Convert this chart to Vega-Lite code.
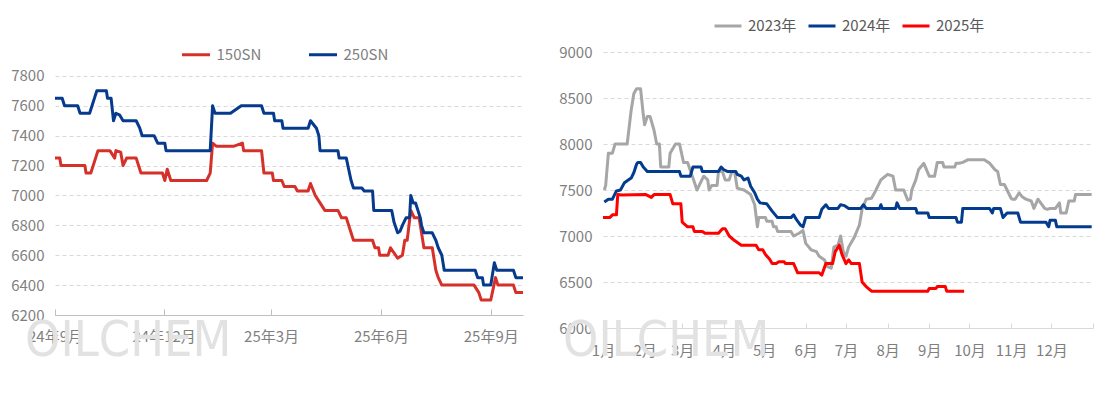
{
"$schema": "https://vega.github.io/schema/vega-lite/v6.json",
"padding": {"left": 10, "top": 11, "right": 0, "bottom": 0},
"background": "white",
"spacing": 33,
"resolve": {"scale": {"color": "independent", "x": "independent", "y": "independent"}, "legend": {"color": "independent"}},
"config": {
  "view": {"stroke": null},
  "font": "Noto Sans CJK SC",
  "axis": {"labelFont": "Noto Sans CJK SC", "labelFontSize": 15, "labelColor": "#7f7f7f", "title": null},
  "legend": {"labelFont": "Noto Sans CJK SC", "labelFontSize": 15, "title": null, "symbolType": "stroke", "symbolStrokeWidth": 3, "direction": "horizontal", "orient": "none", "labelOffset": 5}
},
"datasets": {
"left": [
{"d":"2024-09-01","s":"150SN","v":7250},{"d":"2024-09-05","s":"150SN","v":7250},{"d":"2024-09-06","s":"150SN","v":7200},{"d":"2024-09-26","s":"150SN","v":7200},{"d":"2024-09-27","s":"150SN","v":7150},{"d":"2024-10-01","s":"150SN","v":7150},{"d":"2024-10-07","s":"150SN","v":7300},{"d":"2024-10-17","s":"150SN","v":7300},{"d":"2024-10-21","s":"150SN","v":7250},{"d":"2024-10-22","s":"150SN","v":7300},{"d":"2024-10-26","s":"150SN","v":7290},{"d":"2024-10-28","s":"150SN","v":7200},{"d":"2024-10-31","s":"150SN","v":7250},{"d":"2024-11-08","s":"150SN","v":7250},{"d":"2024-11-10","s":"150SN","v":7200},{"d":"2024-11-12","s":"150SN","v":7150},{"d":"2024-11-30","s":"150SN","v":7150},{"d":"2024-12-02","s":"150SN","v":7100},{"d":"2024-12-04","s":"150SN","v":7175},{"d":"2024-12-07","s":"150SN","v":7100},{"d":"2025-01-06","s":"150SN","v":7100},{"d":"2025-01-09","s":"150SN","v":7150},{"d":"2025-01-11","s":"150SN","v":7350},{"d":"2025-01-14","s":"150SN","v":7330},{"d":"2025-01-29","s":"150SN","v":7330},{"d":"2025-02-05","s":"150SN","v":7350},{"d":"2025-02-06","s":"150SN","v":7300},{"d":"2025-02-21","s":"150SN","v":7300},{"d":"2025-02-23","s":"150SN","v":7150},{"d":"2025-03-02","s":"150SN","v":7150},{"d":"2025-03-03","s":"150SN","v":7100},{"d":"2025-03-10","s":"150SN","v":7100},{"d":"2025-03-12","s":"150SN","v":7060},{"d":"2025-03-21","s":"150SN","v":7060},{"d":"2025-03-23","s":"150SN","v":7030},{"d":"2025-04-01","s":"150SN","v":7030},{"d":"2025-04-03","s":"150SN","v":7080},{"d":"2025-04-07","s":"150SN","v":7000},{"d":"2025-04-11","s":"150SN","v":6950},{"d":"2025-04-15","s":"150SN","v":6900},{"d":"2025-04-26","s":"150SN","v":6900},{"d":"2025-04-29","s":"150SN","v":6850},{"d":"2025-05-03","s":"150SN","v":6850},{"d":"2025-05-09","s":"150SN","v":6700},{"d":"2025-05-25","s":"150SN","v":6700},{"d":"2025-05-27","s":"150SN","v":6650},{"d":"2025-05-30","s":"150SN","v":6650},{"d":"2025-05-31","s":"150SN","v":6600},{"d":"2025-06-07","s":"150SN","v":6600},{"d":"2025-06-09","s":"150SN","v":6650},{"d":"2025-06-15","s":"150SN","v":6580},{"d":"2025-06-19","s":"150SN","v":6600},{"d":"2025-06-21","s":"150SN","v":6700},{"d":"2025-06-23","s":"150SN","v":6700},{"d":"2025-06-26","s":"150SN","v":6900},{"d":"2025-06-29","s":"150SN","v":6850},{"d":"2025-07-03","s":"150SN","v":6850},{"d":"2025-07-05","s":"150SN","v":6750},{"d":"2025-07-07","s":"150SN","v":6650},{"d":"2025-07-14","s":"150SN","v":6650},{"d":"2025-07-17","s":"150SN","v":6500},{"d":"2025-07-19","s":"150SN","v":6450},{"d":"2025-07-22","s":"150SN","v":6400},{"d":"2025-08-18","s":"150SN","v":6400},{"d":"2025-08-22","s":"150SN","v":6350},{"d":"2025-08-24","s":"150SN","v":6300},{"d":"2025-09-01","s":"150SN","v":6300},{"d":"2025-09-05","s":"150SN","v":6450},{"d":"2025-09-07","s":"150SN","v":6400},{"d":"2025-09-20","s":"150SN","v":6400},{"d":"2025-09-22","s":"150SN","v":6350},{"d":"2025-09-28","s":"150SN","v":6350},
{"d":"2024-09-01","s":"250SN","v":7650},{"d":"2024-09-07","s":"250SN","v":7650},{"d":"2024-09-09","s":"250SN","v":7600},{"d":"2024-09-20","s":"250SN","v":7600},{"d":"2024-09-22","s":"250SN","v":7550},{"d":"2024-09-30","s":"250SN","v":7550},{"d":"2024-10-06","s":"250SN","v":7700},{"d":"2024-10-14","s":"250SN","v":7700},{"d":"2024-10-15","s":"250SN","v":7650},{"d":"2024-10-18","s":"250SN","v":7650},{"d":"2024-10-20","s":"250SN","v":7500},{"d":"2024-10-22","s":"250SN","v":7550},{"d":"2024-10-25","s":"250SN","v":7540},{"d":"2024-10-28","s":"250SN","v":7500},{"d":"2024-11-08","s":"250SN","v":7500},{"d":"2024-11-11","s":"250SN","v":7450},{"d":"2024-11-13","s":"250SN","v":7400},{"d":"2024-11-23","s":"250SN","v":7400},{"d":"2024-11-26","s":"250SN","v":7350},{"d":"2024-12-02","s":"250SN","v":7350},{"d":"2024-12-03","s":"250SN","v":7300},{"d":"2025-01-09","s":"250SN","v":7300},{"d":"2025-01-11","s":"250SN","v":7600},{"d":"2025-01-13","s":"250SN","v":7550},{"d":"2025-01-26","s":"250SN","v":7550},{"d":"2025-02-04","s":"250SN","v":7600},{"d":"2025-02-21","s":"250SN","v":7600},{"d":"2025-02-23","s":"250SN","v":7550},{"d":"2025-03-03","s":"250SN","v":7550},{"d":"2025-03-04","s":"250SN","v":7500},{"d":"2025-03-10","s":"250SN","v":7500},{"d":"2025-03-11","s":"250SN","v":7450},{"d":"2025-04-01","s":"250SN","v":7450},{"d":"2025-04-03","s":"250SN","v":7500},{"d":"2025-04-05","s":"250SN","v":7480},{"d":"2025-04-08","s":"250SN","v":7450},{"d":"2025-04-10","s":"250SN","v":7400},{"d":"2025-04-11","s":"250SN","v":7300},{"d":"2025-04-26","s":"250SN","v":7300},{"d":"2025-04-27","s":"250SN","v":7250},{"d":"2025-05-03","s":"250SN","v":7250},{"d":"2025-05-07","s":"250SN","v":7100},{"d":"2025-05-09","s":"250SN","v":7050},{"d":"2025-05-16","s":"250SN","v":7050},{"d":"2025-05-18","s":"250SN","v":7030},{"d":"2025-05-25","s":"250SN","v":7030},{"d":"2025-05-26","s":"250SN","v":6900},{"d":"2025-06-10","s":"250SN","v":6900},{"d":"2025-06-12","s":"250SN","v":6820},{"d":"2025-06-15","s":"250SN","v":6750},{"d":"2025-06-17","s":"250SN","v":6760},{"d":"2025-06-19","s":"250SN","v":6800},{"d":"2025-06-22","s":"250SN","v":6850},{"d":"2025-06-25","s":"250SN","v":6850},{"d":"2025-06-26","s":"250SN","v":7000},{"d":"2025-06-28","s":"250SN","v":6950},{"d":"2025-06-30","s":"250SN","v":6950},{"d":"2025-07-02","s":"250SN","v":6900},{"d":"2025-07-04","s":"250SN","v":6850},{"d":"2025-07-05","s":"250SN","v":6800},{"d":"2025-07-07","s":"250SN","v":6750},{"d":"2025-07-14","s":"250SN","v":6750},{"d":"2025-07-17","s":"250SN","v":6700},{"d":"2025-07-19","s":"250SN","v":6650},{"d":"2025-07-22","s":"250SN","v":6600},{"d":"2025-07-24","s":"250SN","v":6500},{"d":"2025-08-19","s":"250SN","v":6500},{"d":"2025-08-21","s":"250SN","v":6450},{"d":"2025-08-25","s":"250SN","v":6450},{"d":"2025-08-26","s":"250SN","v":6400},{"d":"2025-09-01","s":"250SN","v":6400},{"d":"2025-09-04","s":"250SN","v":6550},{"d":"2025-09-06","s":"250SN","v":6500},{"d":"2025-09-20","s":"250SN","v":6500},{"d":"2025-09-22","s":"250SN","v":6450},{"d":"2025-09-28","s":"250SN","v":6450}
],
"right": [
{"d":"2023-01-02","y":"2023年","v":7500},{"d":"2023-01-03","y":"2023年","v":7550},{"d":"2023-01-05","y":"2023年","v":7900},{"d":"2023-01-08","y":"2023年","v":7900},{"d":"2023-01-10","y":"2023年","v":8000},{"d":"2023-01-19","y":"2023年","v":8000},{"d":"2023-01-22","y":"2023年","v":8370},{"d":"2023-01-24","y":"2023年","v":8550},{"d":"2023-01-26","y":"2023年","v":8600},{"d":"2023-01-29","y":"2023年","v":8600},{"d":"2023-01-31","y":"2023年","v":8320},{"d":"2023-02-01","y":"2023年","v":8210},{"d":"2023-02-03","y":"2023年","v":8300},{"d":"2023-02-05","y":"2023年","v":8300},{"d":"2023-02-08","y":"2023年","v":8150},{"d":"2023-02-10","y":"2023年","v":8000},{"d":"2023-02-12","y":"2023年","v":8000},{"d":"2023-02-13","y":"2023年","v":7750},{"d":"2023-02-19","y":"2023年","v":7750},{"d":"2023-02-20","y":"2023年","v":7900},{"d":"2023-02-24","y":"2023年","v":8000},{"d":"2023-02-27","y":"2023年","v":8000},{"d":"2023-03-02","y":"2023年","v":7800},{"d":"2023-03-05","y":"2023年","v":7800},{"d":"2023-03-09","y":"2023年","v":7630},{"d":"2023-03-12","y":"2023年","v":7500},{"d":"2023-03-17","y":"2023年","v":7650},{"d":"2023-03-20","y":"2023年","v":7610},{"d":"2023-03-21","y":"2023年","v":7500},{"d":"2023-03-23","y":"2023年","v":7550},{"d":"2023-03-27","y":"2023年","v":7550},{"d":"2023-03-28","y":"2023年","v":7700},{"d":"2023-03-31","y":"2023年","v":7700},{"d":"2023-04-02","y":"2023年","v":7610},{"d":"2023-04-05","y":"2023年","v":7610},{"d":"2023-04-07","y":"2023年","v":7700},{"d":"2023-04-09","y":"2023年","v":7700},{"d":"2023-04-11","y":"2023年","v":7520},{"d":"2023-04-16","y":"2023年","v":7500},{"d":"2023-04-21","y":"2023年","v":7450},{"d":"2023-04-24","y":"2023年","v":7340},{"d":"2023-04-26","y":"2023年","v":7100},{"d":"2023-04-27","y":"2023年","v":7200},{"d":"2023-05-02","y":"2023年","v":7200},{"d":"2023-05-03","y":"2023年","v":7160},{"d":"2023-05-07","y":"2023年","v":7160},{"d":"2023-05-08","y":"2023年","v":7100},{"d":"2023-05-10","y":"2023年","v":7100},{"d":"2023-05-11","y":"2023年","v":7050},{"d":"2023-05-21","y":"2023年","v":7050},{"d":"2023-05-23","y":"2023年","v":7000},{"d":"2023-05-27","y":"2023年","v":7030},{"d":"2023-05-30","y":"2023年","v":7060},{"d":"2023-06-01","y":"2023年","v":6920},{"d":"2023-06-05","y":"2023年","v":6850},{"d":"2023-06-09","y":"2023年","v":6830},{"d":"2023-06-11","y":"2023年","v":6780},{"d":"2023-06-15","y":"2023年","v":6740},{"d":"2023-06-17","y":"2023年","v":6670},{"d":"2023-06-20","y":"2023年","v":6650},{"d":"2023-06-22","y":"2023年","v":6880},{"d":"2023-06-25","y":"2023年","v":6900},{"d":"2023-06-27","y":"2023年","v":7000},{"d":"2023-06-29","y":"2023年","v":6830},{"d":"2023-07-01","y":"2023年","v":6780},{"d":"2023-07-03","y":"2023年","v":6880},{"d":"2023-07-07","y":"2023年","v":6980},{"d":"2023-07-11","y":"2023年","v":7120},{"d":"2023-07-13","y":"2023年","v":7290},{"d":"2023-07-16","y":"2023年","v":7400},{"d":"2023-07-20","y":"2023年","v":7410},{"d":"2023-07-23","y":"2023年","v":7490},{"d":"2023-07-27","y":"2023年","v":7610},{"d":"2023-08-01","y":"2023年","v":7670},{"d":"2023-08-05","y":"2023年","v":7650},{"d":"2023-08-07","y":"2023年","v":7500},{"d":"2023-08-13","y":"2023年","v":7500},{"d":"2023-08-16","y":"2023年","v":7390},{"d":"2023-08-18","y":"2023年","v":7400},{"d":"2023-08-19","y":"2023年","v":7500},{"d":"2023-08-22","y":"2023年","v":7610},{"d":"2023-08-24","y":"2023年","v":7720},{"d":"2023-08-28","y":"2023年","v":7790},{"d":"2023-09-01","y":"2023年","v":7650},{"d":"2023-09-05","y":"2023年","v":7650},{"d":"2023-09-07","y":"2023年","v":7800},{"d":"2023-09-11","y":"2023年","v":7800},{"d":"2023-09-12","y":"2023年","v":7750},{"d":"2023-09-20","y":"2023年","v":7750},{"d":"2023-09-21","y":"2023年","v":7790},{"d":"2023-09-23","y":"2023年","v":7790},{"d":"2023-09-26","y":"2023年","v":7800},{"d":"2023-09-30","y":"2023年","v":7830},{"d":"2023-10-12","y":"2023年","v":7830},{"d":"2023-10-16","y":"2023年","v":7790},{"d":"2023-10-20","y":"2023年","v":7720},{"d":"2023-10-22","y":"2023年","v":7700},{"d":"2023-10-23","y":"2023年","v":7630},{"d":"2023-10-24","y":"2023年","v":7560},{"d":"2023-10-27","y":"2023年","v":7560},{"d":"2023-10-29","y":"2023年","v":7500},{"d":"2023-11-01","y":"2023年","v":7410},{"d":"2023-11-02","y":"2023年","v":7400},{"d":"2023-11-04","y":"2023年","v":7400},{"d":"2023-11-07","y":"2023年","v":7470},{"d":"2023-11-09","y":"2023年","v":7430},{"d":"2023-11-12","y":"2023年","v":7400},{"d":"2023-11-16","y":"2023年","v":7380},{"d":"2023-11-18","y":"2023年","v":7300},{"d":"2023-11-21","y":"2023年","v":7400},{"d":"2023-11-23","y":"2023年","v":7360},{"d":"2023-11-26","y":"2023年","v":7300},{"d":"2023-11-28","y":"2023年","v":7290},{"d":"2023-11-30","y":"2023年","v":7300},{"d":"2023-12-04","y":"2023年","v":7300},{"d":"2023-12-07","y":"2023年","v":7360},{"d":"2023-12-08","y":"2023年","v":7250},{"d":"2023-12-12","y":"2023年","v":7250},{"d":"2023-12-14","y":"2023年","v":7380},{"d":"2023-12-18","y":"2023年","v":7380},{"d":"2023-12-19","y":"2023年","v":7450},{"d":"2023-12-31","y":"2023年","v":7450},
{"d":"2023-01-02","y":"2024年","v":7370},{"d":"2023-01-05","y":"2024年","v":7400},{"d":"2023-01-08","y":"2024年","v":7400},{"d":"2023-01-11","y":"2024年","v":7490},{"d":"2023-01-14","y":"2024年","v":7500},{"d":"2023-01-17","y":"2024年","v":7580},{"d":"2023-01-19","y":"2024年","v":7600},{"d":"2023-01-22","y":"2024年","v":7630},{"d":"2023-01-24","y":"2024年","v":7690},{"d":"2023-01-26","y":"2024年","v":7780},{"d":"2023-01-27","y":"2024年","v":7800},{"d":"2023-01-29","y":"2024年","v":7800},{"d":"2023-01-31","y":"2024年","v":7750},{"d":"2023-02-03","y":"2024年","v":7700},{"d":"2023-02-27","y":"2024年","v":7700},{"d":"2023-02-28","y":"2024年","v":7650},{"d":"2023-03-07","y":"2024年","v":7650},{"d":"2023-03-09","y":"2024年","v":7750},{"d":"2023-03-15","y":"2024年","v":7750},{"d":"2023-03-16","y":"2024年","v":7700},{"d":"2023-03-28","y":"2024年","v":7700},{"d":"2023-03-30","y":"2024年","v":7750},{"d":"2023-04-01","y":"2024年","v":7720},{"d":"2023-04-04","y":"2024年","v":7700},{"d":"2023-04-10","y":"2024年","v":7700},{"d":"2023-04-11","y":"2024年","v":7670},{"d":"2023-04-14","y":"2024年","v":7650},{"d":"2023-04-16","y":"2024年","v":7610},{"d":"2023-04-19","y":"2024年","v":7630},{"d":"2023-04-21","y":"2024年","v":7540},{"d":"2023-04-24","y":"2024年","v":7470},{"d":"2023-04-26","y":"2024年","v":7400},{"d":"2023-04-28","y":"2024年","v":7360},{"d":"2023-05-03","y":"2024年","v":7350},{"d":"2023-05-07","y":"2024年","v":7270},{"d":"2023-05-11","y":"2024年","v":7200},{"d":"2023-05-21","y":"2024年","v":7200},{"d":"2023-05-23","y":"2024年","v":7230},{"d":"2023-05-25","y":"2024年","v":7180},{"d":"2023-05-28","y":"2024年","v":7120},{"d":"2023-05-30","y":"2024年","v":7100},{"d":"2023-06-01","y":"2024年","v":7200},{"d":"2023-06-11","y":"2024年","v":7200},{"d":"2023-06-13","y":"2024年","v":7290},{"d":"2023-06-16","y":"2024年","v":7340},{"d":"2023-06-18","y":"2024年","v":7300},{"d":"2023-06-25","y":"2024年","v":7300},{"d":"2023-06-27","y":"2024年","v":7340},{"d":"2023-06-30","y":"2024年","v":7330},{"d":"2023-07-03","y":"2024年","v":7300},{"d":"2023-07-12","y":"2024年","v":7300},{"d":"2023-07-14","y":"2024年","v":7340},{"d":"2023-07-16","y":"2024年","v":7300},{"d":"2023-07-26","y":"2024年","v":7300},{"d":"2023-07-27","y":"2024年","v":7340},{"d":"2023-07-28","y":"2024年","v":7300},{"d":"2023-08-07","y":"2024年","v":7300},{"d":"2023-08-08","y":"2024年","v":7360},{"d":"2023-08-10","y":"2024年","v":7300},{"d":"2023-08-22","y":"2024年","v":7300},{"d":"2023-08-23","y":"2024年","v":7250},{"d":"2023-08-31","y":"2024年","v":7250},{"d":"2023-09-01","y":"2024年","v":7200},{"d":"2023-09-21","y":"2024年","v":7200},{"d":"2023-09-22","y":"2024年","v":7150},{"d":"2023-09-25","y":"2024年","v":7150},{"d":"2023-09-26","y":"2024年","v":7300},{"d":"2023-10-16","y":"2024年","v":7300},{"d":"2023-10-18","y":"2024年","v":7250},{"d":"2023-10-19","y":"2024年","v":7300},{"d":"2023-10-24","y":"2024年","v":7300},{"d":"2023-10-26","y":"2024年","v":7200},{"d":"2023-10-29","y":"2024年","v":7250},{"d":"2023-11-06","y":"2024年","v":7250},{"d":"2023-11-08","y":"2024年","v":7150},{"d":"2023-11-27","y":"2024年","v":7150},{"d":"2023-11-29","y":"2024年","v":7100},{"d":"2023-11-30","y":"2024年","v":7170},{"d":"2023-12-04","y":"2024年","v":7170},{"d":"2023-12-05","y":"2024年","v":7100},{"d":"2023-12-31","y":"2024年","v":7100},
{"d":"2023-01-01","y":"2025年","v":7200},{"d":"2023-01-06","y":"2025年","v":7200},{"d":"2023-01-08","y":"2025年","v":7230},{"d":"2023-01-11","y":"2025年","v":7230},{"d":"2023-01-12","y":"2025年","v":7450},{"d":"2023-01-15","y":"2025年","v":7445},{"d":"2023-02-02","y":"2025年","v":7450},{"d":"2023-02-06","y":"2025年","v":7420},{"d":"2023-02-08","y":"2025年","v":7450},{"d":"2023-02-20","y":"2025年","v":7450},{"d":"2023-02-22","y":"2025年","v":7350},{"d":"2023-02-28","y":"2025年","v":7350},{"d":"2023-03-01","y":"2025年","v":7150},{"d":"2023-03-05","y":"2025年","v":7100},{"d":"2023-03-09","y":"2025年","v":7100},{"d":"2023-03-10","y":"2025年","v":7050},{"d":"2023-03-16","y":"2025年","v":7050},{"d":"2023-03-18","y":"2025年","v":7030},{"d":"2023-03-28","y":"2025年","v":7030},{"d":"2023-03-31","y":"2025年","v":7080},{"d":"2023-04-02","y":"2025年","v":7080},{"d":"2023-04-05","y":"2025年","v":7000},{"d":"2023-04-09","y":"2025年","v":6950},{"d":"2023-04-14","y":"2025年","v":6900},{"d":"2023-04-25","y":"2025年","v":6900},{"d":"2023-04-27","y":"2025年","v":6850},{"d":"2023-04-30","y":"2025年","v":6850},{"d":"2023-05-02","y":"2025年","v":6800},{"d":"2023-05-05","y":"2025年","v":6750},{"d":"2023-05-07","y":"2025年","v":6700},{"d":"2023-05-10","y":"2025年","v":6700},{"d":"2023-05-12","y":"2025年","v":6720},{"d":"2023-05-16","y":"2025年","v":6720},{"d":"2023-05-17","y":"2025年","v":6700},{"d":"2023-05-23","y":"2025年","v":6700},{"d":"2023-05-26","y":"2025年","v":6600},{"d":"2023-06-11","y":"2025年","v":6600},{"d":"2023-06-13","y":"2025年","v":6575},{"d":"2023-06-16","y":"2025年","v":6700},{"d":"2023-06-21","y":"2025年","v":6700},{"d":"2023-06-23","y":"2025年","v":6830},{"d":"2023-06-26","y":"2025年","v":6900},{"d":"2023-06-28","y":"2025年","v":6800},{"d":"2023-07-01","y":"2025年","v":6700},{"d":"2023-07-03","y":"2025年","v":6740},{"d":"2023-07-05","y":"2025年","v":6700},{"d":"2023-07-11","y":"2025年","v":6700},{"d":"2023-07-13","y":"2025年","v":6500},{"d":"2023-07-16","y":"2025年","v":6450},{"d":"2023-07-20","y":"2025年","v":6400},{"d":"2023-08-31","y":"2025年","v":6400},{"d":"2023-09-01","y":"2025年","v":6430},{"d":"2023-09-06","y":"2025年","v":6430},{"d":"2023-09-07","y":"2025年","v":6450},{"d":"2023-09-13","y":"2025年","v":6450},{"d":"2023-09-14","y":"2025年","v":6400},{"d":"2023-09-27","y":"2025年","v":6400}
]
},
"hconcat": [
{
  "width": 468, "height": 263,
  "layer": [
    {
      "data": {"values": [{"t": "OILCHEM"}]},
      "mark": {"type": "text", "font": "Liberation Sans Narrow, DejaVu Sans Condensed, Roboto Condensed, Liberation Sans", "fontSize": 50, "fill": "#e2e2e2", "align": "left", "baseline": "middle", "dx": -30, "dy": 26},
      "encoding": {
        "text": {"field": "t"},
        "x": {"datum": {"year": 2024, "month": 9, "date": 1, "utc": true}, "type": "temporal"},
        "y": {"datum": 6200, "type": "quantitative"}
      }
    },
    {
      "data": {"name": "left"},
      "mark": {"type": "line", "strokeWidth": 3, "strokeJoin": "round"},
      "encoding": {
        "x": {"field": "d", "type": "temporal",
          "scale": {"type": "utc", "domain": [{"year": 2024, "month": 9, "date": 1, "utc": true}, {"year": 2025, "month": 9, "date": 28, "utc": true}]},
          "axis": {"values": [{"year": 2024, "month": 9, "date": 1, "utc": true}, {"year": 2024, "month": 12, "date": 1, "utc": true}, {"year": 2025, "month": 3, "date": 1, "utc": true}, {"year": 2025, "month": 6, "date": 1, "utc": true}, {"year": 2025, "month": 9, "date": 1, "utc": true}],
            "format": "%y年%-m月", "grid": false, "domain": true, "domainColor": "#bfbfbf", "ticks": true, "tickColor": "#bfbfbf", "tickSize": -6, "labelPadding": 20, "labelFlush": false, "labelOverlap": false}},
        "y": {"field": "v", "type": "quantitative",
          "scale": {"domain": [6200, 7960], "nice": false, "zero": false},
          "axis": {"values": [6200, 6400, 6600, 6800, 7000, 7200, 7400, 7600, 7800], "tickCount": 20, "format": "d", "domain": false, "ticks": false, "grid": true, "gridColor": "#d9d9d9", "gridDash": [4, 3], "labelPadding": 11, "labelOverlap": false}},
        "color": {"field": "s", "type": "nominal",
          "scale": {"domain": ["150SN", "250SN"], "range": ["#d6302a", "#053a8c"]},
          "legend": {"legendX": 125.5, "legendY": -13, "padding": 0, "symbolSize": 784, "columnPadding": 41, "labelColor": "#7f7f7f"}}
      }
    }
  ]
},
{
  "width": 490, "height": 276,
  "layer": [
    {
      "data": {"values": [{"t": "OILCHEM"}]},
      "mark": {"type": "text", "font": "Liberation Sans Narrow, DejaVu Sans Condensed, Roboto Condensed, Liberation Sans", "fontSize": 50, "fill": "#e2e2e2", "align": "left", "baseline": "middle", "dx": -40, "dy": 13},
      "encoding": {
        "text": {"field": "t"},
        "x": {"datum": {"year": 2023, "month": 1, "date": 1, "utc": true}, "type": "temporal"},
        "y": {"datum": 6000, "type": "quantitative"}
      }
    },
    {
      "data": {"name": "right"},
      "mark": {"type": "line", "strokeWidth": 3, "strokeJoin": "round"},
      "encoding": {
        "x": {"field": "d", "type": "temporal",
          "scale": {"type": "utc", "domain": [{"year": 2023, "month": 1, "date": 1, "utc": true}, {"year": 2024, "month": 1, "date": 1, "utc": true}]},
          "axis": {"values": [{"year": 2023, "month": 1, "date": 1, "utc": true}, {"year": 2023, "month": 2, "date": 1, "utc": true}, {"year": 2023, "month": 3, "date": 1, "utc": true}, {"year": 2023, "month": 4, "date": 1, "utc": true}, {"year": 2023, "month": 5, "date": 1, "utc": true}, {"year": 2023, "month": 6, "date": 1, "utc": true}, {"year": 2023, "month": 7, "date": 1, "utc": true}, {"year": 2023, "month": 8, "date": 1, "utc": true}, {"year": 2023, "month": 9, "date": 1, "utc": true}, {"year": 2023, "month": 10, "date": 1, "utc": true}, {"year": 2023, "month": 11, "date": 1, "utc": true}, {"year": 2023, "month": 12, "date": 1, "utc": true}, {"year": 2024, "month": 1, "date": 1, "utc": true}],
            "tickCount": 20, "format": "%-m月", "labelExpr": "utcyear(datum.value) > 2023 ? '' : datum.label", "grid": false, "domain": true, "domainColor": "#d9d9d9", "ticks": true, "tickColor": "#d9d9d9", "tickSize": -5, "labelPadding": 20, "labelFlush": false, "labelOverlap": false}},
        "y": {"field": "v", "type": "quantitative",
          "scale": {"domain": [6000, 9000], "nice": false, "zero": false},
          "axis": {"values": [6000, 6500, 7000, 7500, 8000, 8500, 9000], "tickCount": 10, "format": "d", "domain": false, "ticks": false, "grid": true, "gridColor": "#d9d9d9", "gridDash": [4, 3], "labelPadding": 11, "labelOverlap": false}},
        "color": {"field": "y", "type": "nominal",
          "scale": {"domain": ["2023年", "2024年", "2025年"], "range": ["#a6a6a6", "#033b8e", "#ff0000"]},
          "legend": {"legendX": 110, "legendY": -41, "padding": 0, "symbolSize": 729, "columnPadding": 5, "labelColor": "#595959"}}
      }
    }
  ]
}
]
}
